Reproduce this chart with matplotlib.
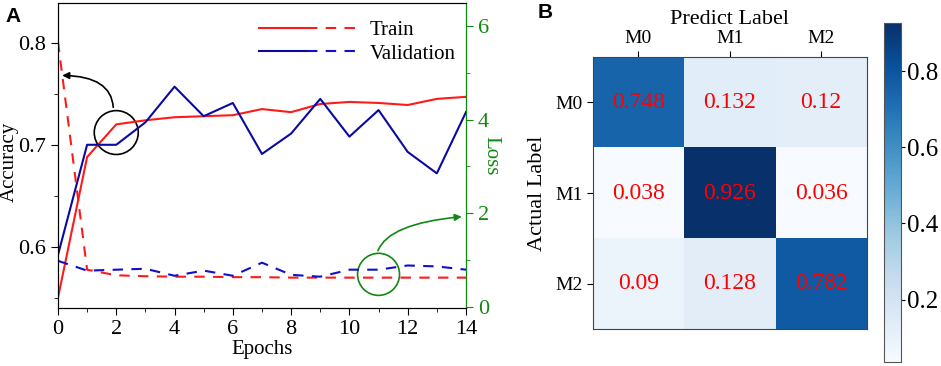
import matplotlib.pyplot as plt
import numpy as np
from matplotlib.patches import Ellipse
from matplotlib.lines import Line2D
from matplotlib.legend_handler import HandlerTuple
from matplotlib.ticker import MultipleLocator

plt.rcParams['font.family'] = ['Liberation Serif', 'DejaVu Serif']

# ---------------- data ----------------
epochs = list(range(15))
train_acc = [0.550, 0.688, 0.720, 0.724, 0.727, 0.728, 0.729, 0.735, 0.732,
             0.740, 0.742, 0.741, 0.739, 0.745, 0.747]
val_acc = [0.592, 0.700, 0.700, 0.722, 0.757, 0.728, 0.741, 0.691, 0.711,
           0.745, 0.708, 0.734, 0.693, 0.672, 0.732]
train_loss = [5.67, 0.79, 0.67, 0.65, 0.64, 0.64, 0.63, 0.63, 0.62,
              0.62, 0.62, 0.62, 0.62, 0.62, 0.62]
val_loss = [0.98, 0.77, 0.79, 0.81, 0.66, 0.77, 0.66, 0.94, 0.68,
            0.64, 0.79, 0.79, 0.88, 0.86, 0.79]

classes = ['M0', 'M1', 'M2']
conf = np.array([[0.748, 0.132, 0.12],
                 [0.038, 0.926, 0.036],
                 [0.09, 0.128, 0.782]])

red = '#ff1a1a'
blue_solid = '#0a0aa0'
blue_dash = '#1010c8'
green = '#118811'

fig = plt.figure(figsize=(9.41, 3.66), dpi=100)

# ---------------- panel A ----------------
ax = fig.add_axes([0.0616, 0.1585, 0.4336, 0.8333])
ax2 = ax.twinx()

ax.plot(epochs, train_acc, color=red, lw=1.5)
ax.plot(epochs, val_acc, color=blue_solid, lw=1.5)
ax2.plot(epochs, train_loss, color=red, lw=1.5, ls=(0, (5, 4)))
ax2.plot(epochs, val_loss, color=blue_dash, lw=1.5, ls=(0, (5, 4)))

ax.set_xlim(0, 14)
ax.set_ylim(0.54, 0.839)
ax2.set_ylim(-0.03, 6.5)
ax.xaxis.set_major_locator(MultipleLocator(2))
ax.xaxis.set_minor_locator(MultipleLocator(1))
ax.yaxis.set_major_locator(MultipleLocator(0.1))
ax.yaxis.set_minor_locator(MultipleLocator(0.05))
ax2.yaxis.set_major_locator(MultipleLocator(2))
ax2.yaxis.set_minor_locator(MultipleLocator(1))

ax.tick_params(which='both', direction='out', labelsize=16)
ax.tick_params(which='major', length=5)
ax.tick_params(which='minor', length=3)
ax2.tick_params(which='both', direction='out', colors=green, labelsize=16)
ax2.tick_params(which='major', length=5)
ax2.tick_params(which='minor', length=3)
ax2.spines['right'].set_color(green)

ax.set_xlabel('Epochs', fontsize=15, labelpad=1)
ax.set_ylabel('Accuracy', fontsize=15)
ax.yaxis.set_label_coords(-0.097, 0.48)
ax2.set_ylabel('Loss', fontsize=15, color=green, rotation=270, labelpad=8)

# legend with solid+dashed handles
h_train = (Line2D([], [], color=red, lw=1.5), Line2D([], [], color=red, lw=1.5, ls=(0, (5, 4))))
h_val = (Line2D([], [], color=blue_solid, lw=1.5), Line2D([], [], color=blue_dash, lw=1.5, ls=(0, (5, 4))))
ax2.legend([h_train, h_val], ['Train', 'Validation'],
           handler_map={tuple: HandlerTuple(ndivide=None, pad=0)},
           loc='upper right', bbox_to_anchor=(1.02, 1.005), frameon=False,
           fontsize=15, handlelength=4.6, handletextpad=0.7, labelspacing=0.2)

# annotation circles and arrows
ax.add_patch(Ellipse((2, 0.712), 1.51, 0.043, fill=False, ec='black', lw=1.2))
ax.annotate('', xy=(0.05, 0.768), xytext=(1.9, 0.734),
            arrowprops=dict(arrowstyle='-|>', color='black', lw=1.2,
                            connectionstyle='angle3,angleA=90,angleB=0'))
ax2.add_patch(Ellipse((11, 0.69), 1.44, 0.9, fill=False, ec=green, lw=1.2))
ax2.annotate('', xy=(13.95, 1.93), xytext=(10.95, 1.14),
             arrowprops=dict(arrowstyle='-|>', color=green, lw=1.2,
                             connectionstyle='angle3,angleA=75,angleB=5'))

fig.text(0.006, 0.94, 'A', fontsize=15, fontweight='bold', family='Liberation Sans')

# ---------------- panel B ----------------
axb = fig.add_axes([0.630, 0.101, 0.291, 0.743])
im = axb.imshow(conf, cmap='Blues', aspect='auto')
for i in range(3):
    for j in range(3):
        axb.text(j, i, str(conf[i, j]), ha='center', va='center',
                 color='red', fontsize=17)
axb.set_xticks(range(3))
axb.set_yticks(range(3))
axb.set_xticklabels(classes)
axb.set_yticklabels(classes)
axb.xaxis.tick_top()
axb.xaxis.set_label_position('top')
axb.tick_params(labelsize=14, length=4)
axb.set_xlabel('Predict Label', fontsize=16, labelpad=4)
axb.set_ylabel('Actual Label', fontsize=16, labelpad=6)
for s in axb.spines.values():
    s.set_color('#444444')

cax = fig.add_axes([0.939, 0.011, 0.018, 0.926])
cb = fig.colorbar(im, cax=cax)
cb.set_ticks([0.2, 0.4, 0.6, 0.8])
cb.ax.tick_params(labelsize=18, length=3, pad=1.5)
cb.outline.set_edgecolor('#555555')

fig.text(0.571, 0.95, 'B', fontsize=15, fontweight='bold', family='Liberation Sans')

fig.savefig('out.png', dpi=100)
